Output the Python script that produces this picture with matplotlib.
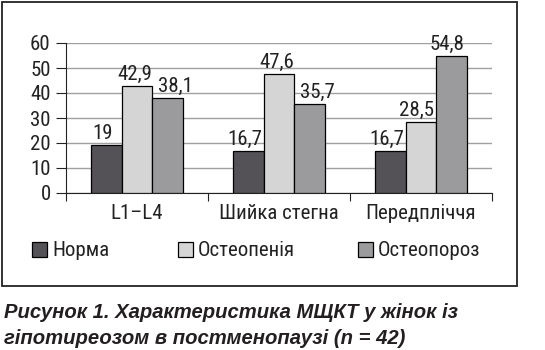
import matplotlib.pyplot as plt
from matplotlib.patches import Rectangle
import numpy as np

# Дані
categories = ['L1–L4', 'Шийка стегна', 'Передпліччя']
series_names = ['Норма', 'Остеопенія', 'Остеопороз']
norma = [19, 16.7, 16.7]
osteopenia = [42.9, 47.6, 28.5]
osteoporoz = [38.1, 35.7, 54.8]
colors = ['#545256', '#d5d5d5', '#9b9b9d']
yticks = [0, 10, 20, 30, 40, 50, 60]

# зсув підписів над стовпчиками (пікселі), [серія][група]
label_dx = [[-4, -4, -4], [-2, -2, -5], [8, 8, -5]]

plt.rcParams['font.family'] = ['Roboto Condensed', 'Liberation Sans', 'DejaVu Sans']

fig = plt.figure(figsize=(5.45, 3.5), dpi=100)
W, H = 545, 350

def fx(px):
    return px / W

def fy(py):
    return 1 - py / H

# рамка навколо графіка
fig.patches.append(Rectangle((fx(1.5), fy(286)), fx(517) - fx(1.5), fy(1.5) - fy(286),
                             transform=fig.transFigure, fill=False,
                             edgecolor='#222222', linewidth=1.3))

ax = fig.add_axes([fx(66), fy(193), fx(492) - fx(66), fy(43) - fy(193)])

x = np.arange(len(categories))
width = 0.215
offsets = [-width, 0, width]
all_series = [norma, osteopenia, osteoporoz]
fs = 15

for vals, off, c, dxs in zip(all_series, offsets, colors, label_dx):
    bars = ax.bar(x + off, vals, width=width, color=c, edgecolor='black',
                  linewidth=0.9, zorder=3)
    for b, v, dx in zip(bars, vals, dxs):
        txt = f'{v:g}'.replace('.', ',')
        ax.annotate(txt, (b.get_x() + b.get_width() / 2, v),
                    xytext=(dx * 0.72, 6 * 0.72), textcoords='offset points',
                    ha='center', va='baseline', fontsize=fs, color='#222222')

ax.set_xlim(-0.5, 2.5)
ax.set_ylim(0, 60)
ax.set_yticks(yticks)
ax.tick_params(axis='y', labelsize=fs, length=7, pad=4, colors='#222222')
ax.yaxis.grid(True, color='#a0a0a0', linewidth=1, zorder=0)

ax.set_xticks([-0.5, 0.5, 1.5, 2.5])
ax.set_xticklabels([])
ax.tick_params(axis='x', which='major', length=6, color='#222222')
ax.set_xticks(x, minor=True)
ax.set_xticklabels(categories, minor=True, fontsize=fs, color='#222222')
ax.tick_params(axis='x', which='minor', length=0, pad=8)

for s in ['top', 'right']:
    ax.spines[s].set_visible(False)
ax.spines['left'].set_color('#222222')
ax.spines['bottom'].set_color('#222222')

# легенда
leg_x = [32, 178, 358]
for name, c, lx in zip(series_names, colors, leg_x):
    fig.patches.append(Rectangle((fx(lx), fy(257)), fx(15), fy(242) - fy(257),
                                 transform=fig.transFigure, facecolor=c,
                                 edgecolor='black', linewidth=0.9))
    fig.text(fx(lx + 20), fy(250), name, fontsize=fs, va='center', ha='left',
             color='#222222')

# підпис
cap_font = ['Liberation Sans', 'DejaVu Sans']
fig.text(fx(4), fy(312), 'Рисунок 1. Характеристика МЩКТ у жінок із',
         fontsize=14.6, fontweight='bold', fontstyle='italic', family=cap_font,
         va='center', ha='left', color='#231f20')
fig.text(fx(4), fy(338), 'гіпотиреозом в постменопаузі (n = 42)',
         fontsize=14.6, fontweight='bold', fontstyle='italic', family=cap_font,
         va='center', ha='left', color='#231f20')

fig.savefig('out.png', dpi=100)
